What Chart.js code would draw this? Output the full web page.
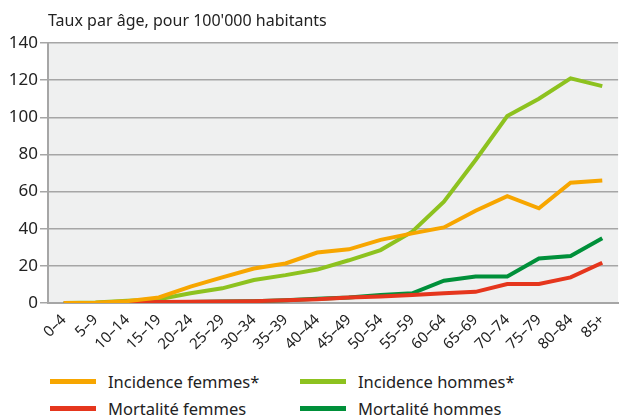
<!DOCTYPE html>
<html>
<head>
<meta charset="utf-8">
<script src="https://cdn.jsdelivr.net/npm/chart.js@4"></script>
<style>
  body { margin: 0; background: #fff; font-family: "Noto Sans", sans-serif; }
  #wrap { position: relative; width: 623px; height: 362px; }
  #legend { position: absolute; left: 0; top: 370px; width: 623px; }
  .item { position: absolute; display: flex; align-items: center; font-size: 16.5px; color: #222; }
  .swatch { width: 46px; height: 5px; margin-right: 12px; }
</style>
</head>
<body>
<div id="wrap"><canvas id="chart" width="623" height="362"></canvas></div>
<div id="legend"></div>
<script>
// Age groups and rates per 100'000
const ageGroups = ['0–4', '5–9', '10–14', '15–19', '20–24', '25–29', '30–34', '35–39', '40–44',
    '45–49', '50–54', '55–59', '60–64', '65–69', '70–74', '75–79', '80–84', '85+'];
const incidenceFemmes = [0, 0.2, 1, 3, 8.8, 13.8, 18.6, 21.3, 27.2, 28.9, 34, 37.5, 40.7, 49.7, 57.5, 51, 64.8, 66];
const incidenceHommes = [0, 0.3, 1.2, 2, 5.2, 7.9, 12.4, 15, 18, 23, 28.5, 38.4, 54.6, 77, 100.7, 110, 121, 116.8];
const mortaliteFemmes = [0, 0, 0.3, 0.5, 0.7, 0.8, 1, 1.5, 2, 3, 3.5, 4.3, 5.2, 6, 10.2, 10.2, 13.8, 21.7];
const mortaliteHommes = [0, 0, 0.2, 0.4, 0.6, 0.8, 1, 1.5, 2.3, 3, 4.3, 5.2, 12, 14.3, 14.3, 24, 25.3, 34.8];
const yTicks = [0, 20, 40, 60, 80, 100, 120, 140];

const fontFamily = '"Noto Sans", sans-serif';

const plotBackground = {
    id: 'plotBackground',
    beforeDraw(chart) {
        const { ctx, chartArea } = chart;
        ctx.save();
        ctx.fillStyle = '#eff0f0';
        ctx.fillRect(chartArea.left, chartArea.top, chartArea.right - chartArea.left, chartArea.bottom - chartArea.top);
        ctx.restore();
    }
};

const topTitle = {
    id: 'topTitle',
    afterDraw(chart) {
        const { ctx, chartArea } = chart;
        ctx.save();
        ctx.font = '16px ' + fontFamily;
        ctx.fillStyle = '#222';
        ctx.textBaseline = 'middle';
        ctx.fillText("Taux par âge, pour 100'000 habitants", chartArea.left, 21);
        ctx.restore();
    }
};

const datasets = [
    { label: 'Incidence femmes*', data: incidenceFemmes, borderColor: '#f7a600', order: 0 },
    { label: 'Mortalité femmes', data: mortaliteFemmes, borderColor: '#e5361d', order: 1 },
    { label: 'Incidence hommes*', data: incidenceHommes, borderColor: '#8dc21f', order: 2 },
    { label: 'Mortalité hommes', data: mortaliteHommes, borderColor: '#00903a', order: 3 }
];

const ctx = document.getElementById('chart').getContext('2d');
const chart = new Chart(ctx, {
    type: 'line',
    data: {
        labels: ageGroups,
        datasets: datasets.map(d => ({ ...d, borderWidth: 4, pointRadius: 0, tension: 0, fill: false }))
    },
    options: {
        responsive: false,
        animation: false,
        layout: { padding: { top: 43, right: 0, left: 0, bottom: 0 } },
        plugins: { legend: { display: false }, tooltip: { enabled: false } },
        scales: {
            x: {
                offset: true,
                grid: { display: false, drawTicks: false },
                border: { color: '#a6a6a6', width: 2 },
                ticks: { color: '#222', font: { family: fontFamily, size: 15 }, minRotation: 45, maxRotation: 45, padding: 8 },
                afterFit(scale) { scale.height = 59; }
            },
            y: {
                min: 0,
                max: 140,
                afterBuildTicks(scale) { scale.ticks = yTicks.map(v => ({ value: v })); },
                grid: { color: '#a6a6a6', lineWidth: 1.5, tickLength: 8 },
                border: { color: '#a6a6a6', width: 2 },
                ticks: { color: '#222', font: { family: fontFamily, size: 17 }, padding: 2 },
                afterFit(scale) { scale.width = 48; }
            }
        }
    },
    plugins: [plotBackground, topTitle]
});

// HTML legend in two columns
const legendPos = [[50, 0], [50, 27], [300, 0], [300, 27]];
const legend = document.getElementById('legend');
datasets.forEach((d, i) => {
    const el = document.createElement('div');
    el.className = 'item';
    el.style.left = legendPos[i][0] + 'px';
    el.style.top = legendPos[i][1] + 'px';
    el.innerHTML = '<span class="swatch" style="background:' + d.borderColor + '"></span>' + d.label;
    legend.appendChild(el);
});
</script>
</body>
</html>
